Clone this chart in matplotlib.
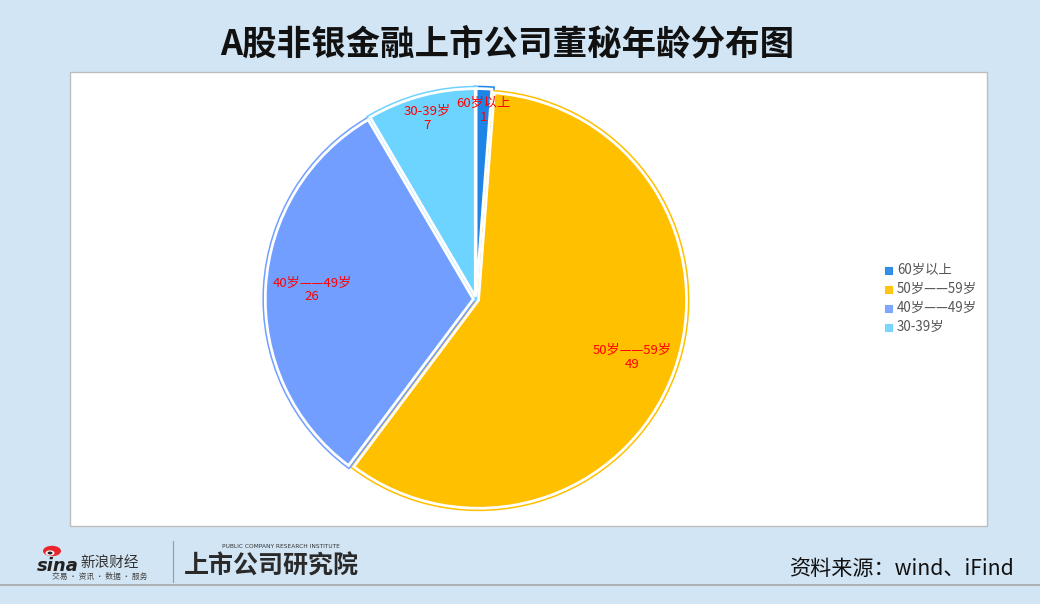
import numpy as np
import matplotlib
matplotlib.use("Agg")
import matplotlib.pyplot as plt
from matplotlib.patches import Rectangle, Circle

plt.rcParams['font.family'] = ['Noto Sans CJK SC', 'DejaVu Sans']

# ---- data ----
categories = ["60岁以上", "50岁——59岁", "40岁——49岁", "30-39岁"]
values = [1, 49, 26, 7]
colors = ["#1E84E6", "#FFC000", "#729FFF", "#6DD3FF"]
title = "A股非银金融上市公司董秘年龄分布图"
source = "资料来源：wind、iFind"

W, H = 1040, 604
fig = plt.figure(figsize=(W / 100, H / 100), dpi=100)
fig.patch.set_facecolor("#D2E5F4")

def fx(x):
    return x / W

def fy(y):
    return 1 - y / H

# plot area white box
bg = Rectangle((fx(70), fy(526)), fx(987) - fx(70), fy(72) - fy(526),
               transform=fig.transFigure, facecolor="white",
               edgecolor="#BDBDBD", lw=1, zorder=-5)
fig.add_artist(bg)
# bottom separator line
fig.add_artist(plt.Line2D([0, 1], [fy(585), fy(585)], transform=fig.transFigure,
                          color="#A8A8A8", lw=1.2))

# pie axes
cx, cy, S = 476, 299.3, 500
R = 208.0
lim = (S / 2) / R
ax = fig.add_axes([fx(cx - S / 2), fy(cy + S / 2), S / W, S / H])
ax.set_zorder(5)
ax.axis("off")

explode = [0.013] * len(values)
w1, _ = ax.pie(values, colors=colors, startangle=90, counterclock=False, radius=1.0,
               explode=explode, wedgeprops=dict(linewidth=0))
for w, c in zip(w1, colors):
    w.set_edgecolor(c)
    w.set_linewidth(4.2)
w2, _ = ax.pie(values, colors=colors, startangle=90, counterclock=False, radius=1.0,
               explode=explode, wedgeprops=dict(edgecolor="white", linewidth=2.0))
ax.set_xlim(-lim, lim)
ax.set_ylim(-lim, lim)

# labels
total = sum(values)
label_r = [0.91, 0.8, 0.79, 0.9]
ang = 90.0
for i, v in enumerate(values):
    span = v / total * 360
    mid = np.deg2rad(ang - span / 2)
    ang -= span
    r = label_r[i]
    ax.text(r * np.cos(mid), r * np.sin(mid), f"{categories[i]}\n{v}",
            ha="center", va="center", color="#FF0000", fontsize=9.5,
            linespacing=1.1, zorder=10)

# legend
ly0 = 270
for i, (c, lab) in enumerate(zip(colors, categories)):
    y = ly0 + i * 19
    fig.add_artist(Rectangle((fx(885), fy(y + 3.5)), 7 / W, 7 / H,
                             transform=fig.transFigure, facecolor=c,
                             edgecolor=c, lw=0.8, alpha=0.9))
    fig.text(fx(897), fy(y), lab, ha="left", va="center", fontsize=9.6,
             color="#555555")

# title
fig.text(fx(507), fy(44), title, ha="center", va="center", fontsize=24.8,
         fontweight="bold", color="#111111")

# source
fig.text(fx(1015), fy(569), source, ha="right", va="center", fontsize=15.2,
         color="#111111")

# logos
fig.add_artist(Circle((fx(52), fy(551)), 9 / W, transform=fig.transFigure,
                      facecolor="#E8262B", edgecolor="none"))
fig.add_artist(Circle((fx(50), fy(553)), 4.5 / W, transform=fig.transFigure,
                      facecolor="white", edgecolor="none"))
fig.add_artist(Circle((fx(50), fy(553)), 2.5 / W, transform=fig.transFigure,
                      facecolor="#222222", edgecolor="none"))
fig.text(fx(37), fy(566), "sina", ha="left", va="center", fontsize=13,
         fontweight="bold", style="italic", color="#222222", family=["DejaVu Sans"])
fig.text(fx(80), fy(563), "新浪财经", ha="left", va="center", fontsize=10.5,
         color="#333333")
fig.text(fx(52), fy(577), "交易 · 资讯 · 数据 · 服务", ha="left", va="center",
         fontsize=5.6, color="#444444")
fig.add_artist(plt.Line2D([fx(173), fx(173)], [fy(541), fy(582)],
                          transform=fig.transFigure, color="#9A9A9A", lw=0.8))
fig.text(fx(184), fy(567), "上市公司研究院", ha="left", va="center", fontsize=18,
         fontweight="bold", style="italic", color="#2A2A2A")
fig.text(fx(222), fy(546), "PUBLIC COMPANY RESEARCH INSTITUTE", ha="left",
         va="center", fontsize=4.2, color="#333333", family=["DejaVu Sans"])

fig.savefig("out.png", dpi=100, facecolor=fig.get_facecolor())
